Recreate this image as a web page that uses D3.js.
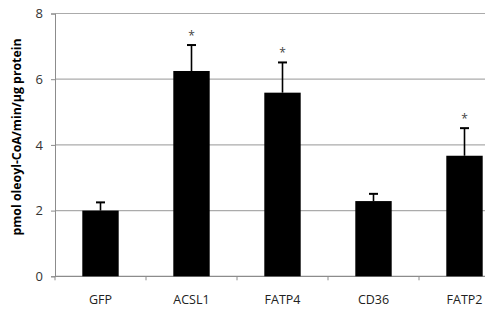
<!DOCTYPE html>
<html lang="en">
<head>
    <meta charset="UTF-8">
    <title>Oleoyl-CoA activity</title>
    <script src="https://cdn.jsdelivr.net/npm/d3@7"></script>
    <style>
        body { margin: 0; background: #fff; }
        text { font-family: "Open Sans", "Noto Sans", sans-serif; }
    </style>
</head>
<body>
    <div id="chart-space"></div>

    <script>
        // values
        var categories = ["GFP", "ACSL1", "FATP4", "CD36", "FATP2"];
        var means = [2.0, 6.25, 5.59, 2.29, 3.67];
        var errors = [0.25, 0.79, 0.92, 0.22, 0.84];
        var significant = [false, true, true, false, true];
        var yTicks = [0, 2, 4, 6, 8];

        var width = 497;
        var height = 313;

        var svg = d3.select("#chart-space")
            .append("svg")
            .attr("width", width)
            .attr("height", height);

        // band range runs past the right edge, the original picture is cropped there
        var xScale = d3.scaleBand()
            .domain(categories)
            .range([55, 510])
            .paddingInner(0.6)
            .paddingOuter(0.3);

        var yScale = d3.scaleLinear()
            .domain([0, 8])
            .range([276.3, 13.5]);

        var gridRight = 485;

        // gridlines
        svg.selectAll(".grid")
            .data(yTicks.filter(function(d) { return d > 0; }))
            .join("line")
            .attr("class", "grid")
            .attr("x1", 55)
            .attr("x2", gridRight)
            .attr("y1", function(d) { return yScale(d); })
            .attr("y2", function(d) { return yScale(d); })
            .attr("stroke", "#ababab")
            .attr("stroke-width", 1.2);

        // y axis
        var yAxis = svg.append("g")
            .attr("transform", "translate(55,0)")
            .call(d3.axisLeft(yScale).tickValues(yTicks).tickSize(4).tickPadding(8));
        yAxis.select(".domain").attr("stroke", "#8c8c8c");
        yAxis.selectAll(".tick line").attr("stroke", "#8c8c8c");
        yAxis.selectAll(".tick text")
            .attr("fill", "#333")
            .style("font-size", "13px");

        // x axis baseline and ticks between categories
        var xAxisY = yScale(0);
        svg.append("line")
            .attr("x1", 55)
            .attr("x2", gridRight)
            .attr("y1", xAxisY)
            .attr("y2", xAxisY)
            .attr("stroke", "#8c8c8c")
            .attr("stroke-width", 1.2);

        var step = xScale.step();
        var bounds = categories.map(function(c) { return xScale(c) + xScale.bandwidth() / 2 - step / 2; });
        svg.selectAll(".xtick")
            .data(bounds)
            .join("line")
            .attr("class", "xtick")
            .attr("x1", function(d) { return d; })
            .attr("x2", function(d) { return d; })
            .attr("y1", xAxisY)
            .attr("y2", xAxisY + 4)
            .attr("stroke", "#8c8c8c");

        svg.selectAll(".xlabel")
            .data(categories)
            .join("text")
            .attr("class", "xlabel")
            .attr("x", function(d) { return xScale(d) + xScale.bandwidth() / 2; })
            .attr("y", 304)
            .attr("text-anchor", "middle")
            .attr("fill", "#222")
            .style("font-size", "12.5px")
            .text(function(d) { return d; });

        // bars
        svg.selectAll(".bar")
            .data(categories)
            .join("rect")
            .attr("class", "bar")
            .attr("x", function(d) { return xScale(d); })
            .attr("width", xScale.bandwidth())
            .attr("y", function(d, i) { return yScale(means[i]); })
            .attr("height", function(d, i) { return yScale(0) - yScale(means[i]); })
            .attr("fill", "#000");

        // error bars (upper only)
        var cx = function(d) { return xScale(d) + xScale.bandwidth() / 2; };
        svg.selectAll(".err")
            .data(categories)
            .join("line")
            .attr("class", "err")
            .attr("x1", cx)
            .attr("x2", cx)
            .attr("y1", function(d, i) { return yScale(means[i]); })
            .attr("y2", function(d, i) { return yScale(means[i] + errors[i]); })
            .attr("stroke", "#000")
            .attr("stroke-width", 1.6);

        svg.selectAll(".cap")
            .data(categories)
            .join("line")
            .attr("class", "cap")
            .attr("x1", function(d) { return cx(d) - 4.5; })
            .attr("x2", function(d) { return cx(d) + 4.5; })
            .attr("y1", function(d, i) { return yScale(means[i] + errors[i]); })
            .attr("y2", function(d, i) { return yScale(means[i] + errors[i]); })
            .attr("stroke", "#000")
            .attr("stroke-width", 2);

        // significance stars
        svg.selectAll(".star")
            .data(categories.filter(function(d, i) { return significant[i]; }))
            .join("text")
            .attr("class", "star")
            .attr("x", cx)
            .attr("y", function(d) {
                var i = categories.indexOf(d);
                return yScale(means[i] + errors[i]) - 5;
            })
            .attr("text-anchor", "middle")
            .attr("fill", "#444")
            .style("font-size", "12px")
            .text("*");

        // y axis title
        svg.append("text")
            .attr("transform", "translate(21,137) rotate(-90)")
            .attr("text-anchor", "middle")
            .attr("fill", "#000")
            .style("font-size", "12.3px")
            .style("font-weight", "bold")
            .text("pmol oleoyl-CoA/min/\u00b5g protein");
    </script>
</body>
</html>
